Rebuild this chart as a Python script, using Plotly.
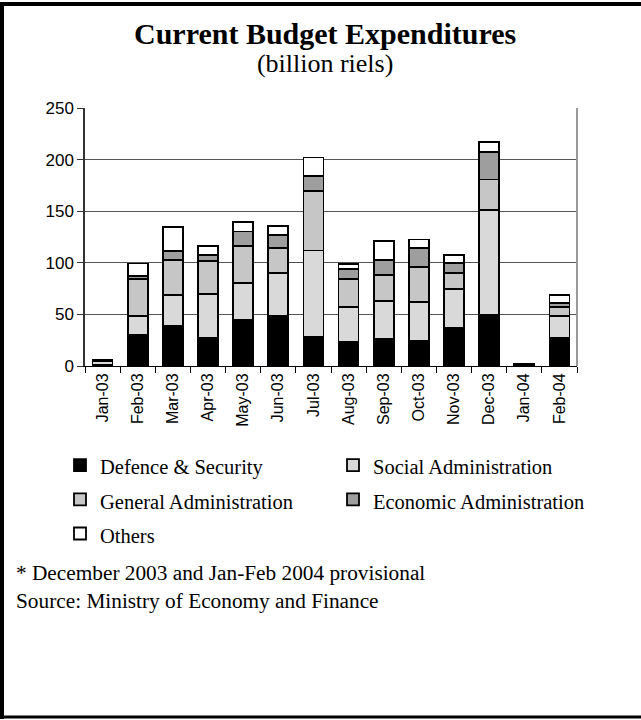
import plotly.graph_objects as go

months = ["Jan-03", "Feb-03", "Mar-03", "Apr-03", "May-03", "Jun-03", "Jul-03",
          "Aug-03", "Sep-03", "Oct-03", "Nov-03", "Dec-03", "Jan-04", "Feb-04"]

defence = [1.0, 30.0, 39.0, 27.0, 44.5, 48.5, 28.0, 23.0, 26.0, 24.0, 36.7, 49.3, 2.5, 27.4]
social = [3.5, 18.5, 29.5, 42.7, 35.8, 41.8, 84.0, 33.8, 37.0, 38.3, 38.3, 101.8, 0.0, 21.0]
general = [0.5, 36.0, 34.3, 32.0, 36.0, 24.1, 57.6, 27.7, 25.0, 33.5, 15.1, 29.6, 0.0, 9.0]
economic = [0.3, 2.5, 8.7, 5.8, 14.1, 12.2, 14.2, 9.6, 14.5, 18.4, 10.0, 26.7, 0.0, 3.6]
others = [0.7, 12.3, 23.3, 9.1, 9.0, 9.0, 18.3, 4.9, 19.0, 8.4, 7.4, 10.0, 0.0, 7.7]

series_names = ["Defence & Security", "Social Administration", "General Administration",
                "Economic Administration", "Others"]
series_values = [defence, social, general, economic, others]
series_colors = ["#000000", "#D9D9D9", "#C6C6C6", "#9E9E9E", "#FFFFFF"]

W, H = 641, 720
L, R, T, B = 85, 64, 108, 354
PW = W - L - R
PH = H - T - B


def px_x(px):
    return (px - L) / PW


def px_y(py):
    return (H - B - py) / PH


SERIF = "Liberation Serif, Times New Roman, serif"
SANS = "Liberation Sans, Arial, sans-serif"

fig = go.Figure()
for name, vals, col in zip(series_names, series_values, series_colors):
    fig.add_trace(go.Bar(
        x=months, y=vals,
        name='<span style="font-size:20.5px">' + name + '</span>',
        marker=dict(color=col, line=dict(color="#000000", width=1.8)),
        width=0.57,
    ))

title_text = ('<span style="font-size:30px"><b>Current Budget Expenditures</b></span><br>'
              '<span style="font-size:26px">(billion riels)</span>')

fig.update_layout(
    width=W, height=H,
    margin=dict(l=L, r=R, t=T, b=B, autoexpand=False),
    paper_bgcolor="white", plot_bgcolor="white",
    barmode="stack",
    showlegend=True,
    font=dict(family=SANS, color="black", size=14),
    legend=dict(
        orientation="h", traceorder="normal",
        x=px_x(60), y=px_y(443), xanchor="left", yanchor="top",
        entrywidth=228, entrywidthmode="pixels",
        font=dict(family=SERIF, size=24, color="black"),
        itemwidth=30, bgcolor="rgba(0,0,0,0)",
    ),
    xaxis=dict(
        type="category", tickangle=-90, showgrid=False,
        showline=True, linecolor="black", linewidth=1,
        ticks="outside", tickson="boundaries", ticklen=6, tickcolor="black",
        tickfont=dict(family=SANS, size=16, color="black"),
        fixedrange=True,
    ),
    yaxis=dict(
        range=[0, 250], tickvals=[0, 50, 100, 150, 200, 250],
        showgrid=True, gridcolor="#555555", gridwidth=1,
        showline=True, linecolor="#333333", linewidth=1.5,
        ticks="outside", ticklen=6, tickcolor="#333333",
        tickfont=dict(family=SANS, size=17, color="black"),
        zeroline=False, fixedrange=True,
    ),
    annotations=[
        dict(text=title_text, x=px_x(325), y=px_y(47),
             xref="paper", yref="paper", showarrow=False, xanchor="center", yanchor="middle",
             align="center",
             font=dict(family=SERIF, size=21.5, color="black")),
        dict(text="* December 2003 and Jan-Feb 2004 provisional", x=px_x(14), y=px_y(573),
             xref="paper", yref="paper", showarrow=False, xanchor="left", yanchor="middle",
             font=dict(family=SERIF, size=21.3, color="black")),
        dict(text="Source: Ministry of Economy and Finance", x=px_x(14), y=px_y(601),
             xref="paper", yref="paper", showarrow=False, xanchor="left", yanchor="middle",
             font=dict(family=SERIF, size=21.3, color="black")),
    ],
    shapes=[
        dict(type="line", xref="paper", yref="paper", x0=1, x1=1, y0=0, y1=1,
             line=dict(color="#999999", width=2)),
        dict(type="line", xref="paper", yref="paper", x0=px_x(0), x1=px_x(641),
             y0=px_y(4), y1=px_y(4), line=dict(color="black", width=4)),
        dict(type="line", xref="paper", yref="paper", x0=px_x(2), x1=px_x(2),
             y0=px_y(4), y1=px_y(719), line=dict(color="black", width=4)),
        dict(type="line", xref="paper", yref="paper", x0=px_x(0), x1=px_x(641),
             y0=px_y(717), y1=px_y(717), line=dict(color="black", width=3)),
    ],
)

fig.write_html("out.html", config={"displayModeBar": False},
               post_script="document.body.style.margin='0px';")
